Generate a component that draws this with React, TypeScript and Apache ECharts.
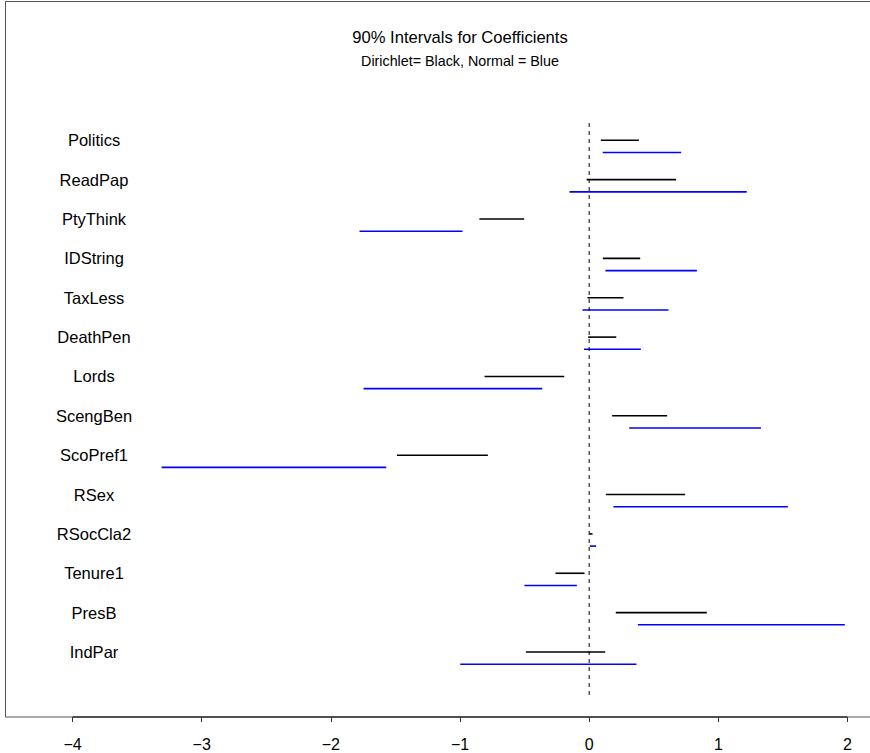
import React, { useEffect, useRef } from "react";
import * as echarts from "echarts";

const variables = [
  "Politics", "ReadPap", "PtyThink", "IDString", "TaxLess", "DeathPen", "Lords",
  "ScengBen", "ScoPref1", "RSex", "RSocCla2", "Tenure1", "PresB", "IndPar",
];
const dirichletLow = [0.09, -0.02, -0.85, 0.106, -0.013, -0.008, -0.81, 0.178, -1.488, 0.129, 0.002, -0.261, 0.206, -0.49];
const dirichletHigh = [0.385, 0.673, -0.503, 0.395, 0.266, 0.21, -0.193, 0.604, -0.784, 0.743, 0.026, -0.036, 0.911, 0.124];
const normalLow = [0.105, -0.152, -1.778, 0.126, -0.052, -0.04, -1.747, 0.31, -3.31, 0.188, 0.005, -0.501, 0.377, -0.998];
const normalHigh = [0.712, 1.22, -0.981, 0.834, 0.614, 0.4, -0.364, 1.33, -1.571, 1.538, 0.054, -0.095, 1.979, 0.366];
const xTicks = [-4, -3, -2, -1, 0, 1, 2];
const rowIdx = variables.map((_, i) => i);

const FONT = "'Liberation Sans', Arial, Helvetica, sans-serif";
const Y_MIN = -3.539;
const Y_MAX = 14.652;
const X_MIN = -4.5226;
const X_MAX = 2.1742;
const BLUE_OFFSET = 0.31;

function segSeries(name: string, lows: number[], highs: number[], offset: number, color: string) {
  return {
    name,
    type: "custom",
    clip: false,
    data: lows.map((lo, i) => [lo, highs[i], i + offset]),
    encode: { x: [0, 1], y: 2 },
    renderItem: (_params: any, api: any) => {
      const p1 = api.coord([api.value(0), api.value(2)]);
      const p2 = api.coord([api.value(1), api.value(2)]);
      return {
        type: "line",
        shape: { x1: p1[0], y1: p1[1], x2: p2[0], y2: p2[1] },
        style: { stroke: color, lineWidth: 1.6 },
      };
    },
  };
}

export default function App() {
  const ref = useRef<HTMLDivElement>(null);
  useEffect(() => {
    if (!ref.current) return;
    const chart = echarts.init(ref.current, undefined, { renderer: "svg" });
    chart.setOption({
      animation: false,
      backgroundColor: "#ffffff",
      textStyle: { fontFamily: FONT },
      graphic: [
        {
          type: "polyline",
          silent: true,
          shape: {
            points: [
              [872, 1.5],
              [5.5, 1.5],
              [5.5, 717],
              [872, 717],
            ],
          },
          style: { stroke: "#555", lineWidth: 1, fill: null },
        },
        {
          type: "text",
          x: 460,
          y: 37,
          style: {
            text: "90% Intervals for Coefficients",
            font: `16.6px ${FONT}`,
            fill: "#000",
            textAlign: "center",
            textVerticalAlign: "middle",
          },
        },
        {
          type: "text",
          x: 460,
          y: 61,
          style: {
            text: "Dirichlet= Black, Normal = Blue",
            font: `14.3px ${FONT}`,
            fill: "#000",
            textAlign: "center",
            textVerticalAlign: "middle",
          },
        },
      ],
      grid: {
        left: 5,
        right: 0,
        top: 1,
        bottom: 36,
        show: false,
      },
      xAxis: {
        type: "value",
        min: X_MIN,
        max: X_MAX,
        splitLine: { show: false },
        axisLine: { show: false, onZero: false },
        axisTick: {
          show: true,
          length: 5,
          customValues: xTicks,
          lineStyle: { color: "#333", width: 1 },
        },
        axisLabel: {
          customValues: xTicks,
          margin: 19,
          fontSize: 16,
          color: "#000",
          fontFamily: FONT,
          formatter: (v: number) => String(v).replace("-", "\u2212"),
        },
      },
      yAxis: {
        type: "value",
        inverse: true,
        min: Y_MIN,
        max: Y_MAX,
        splitLine: { show: false },
        axisLine: { show: false, onZero: false },
        axisTick: { show: false },
        axisLabel: {
          customValues: rowIdx,
          inside: true,
          margin: 89,
          align: "center",
          fontSize: 16.5,
          color: "#000",
          fontFamily: FONT,
          formatter: (v: number) => variables[Math.round(v)] ?? "",
        },
      },
      series: [
        {
          name: "zero",
          type: "line",
          data: [
            [0, -0.44],
            [0, 14.09],
          ],
          symbol: "none",
          lineStyle: { color: "#000", width: 1, type: [4, 4] },
        },
        {
          name: "axis",
          type: "line",
          clip: false,
          data: [
            [xTicks[0], Y_MAX],
            [xTicks[xTicks.length - 1], Y_MAX],
          ],
          symbol: "none",
          lineStyle: { color: "#333", width: 1.6 },
        },
        segSeries("Dirichlet", dirichletLow, dirichletHigh, 0, "#000000"),
        segSeries("Normal", normalLow, normalHigh, BLUE_OFFSET, "#0000ff"),
      ],
    });
    return () => chart.dispose();
  }, []);
  return (
    <div
      ref={ref}
      style={{ position: "absolute", left: 0, top: 0, width: 870, height: 753 }}
    />
  );
}
